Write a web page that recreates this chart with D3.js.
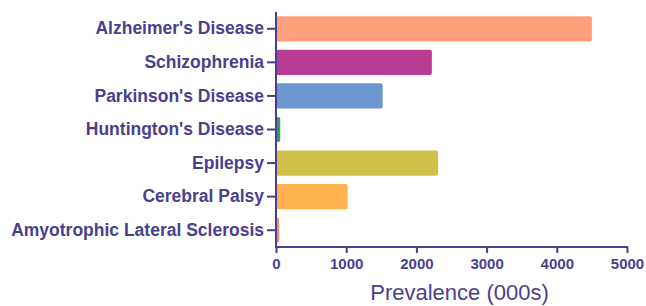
<!DOCTYPE html>
<html>
<head>
<meta charset="utf-8">
<script src="https://cdn.jsdelivr.net/npm/d3@7"></script>
<style>
  body { margin: 0; background: #fff; }
  svg { display: block; font-family: "Liberation Sans", Arial, sans-serif; }
</style>
</head>
<body>
<svg id="chart"></svg>
<script>
var diseases = ["Alzheimer's Disease", "Schizophrenia", "Parkinson's Disease", "Huntington's Disease", "Epilepsy", "Cerebral Palsy", "Amyotrophic Lateral Sclerosis"];
var prevalence = [4500, 2220, 1520, 60, 2310, 1020, 45];
var barColors = ["#ff9e7a", "#b83c93", "#6b96d0", "#2e9e5b", "#cfc04a", "#ffb04f", "#ff846e"];
var xTicks = [0, 1000, 2000, 3000, 4000, 5000];

var ink = "#4a3f8e";
var width = 646, height = 306;
var margin = { top: 12, right: 19, bottom: 59, left: 276 };

var svg = d3.select("#chart").attr("width", width).attr("height", height);
var g = svg.append("g").attr("transform", "translate(" + margin.left + "," + margin.top + ")");
var h = height - margin.top - margin.bottom;

var x = d3.scaleLinear().domain([0, 5000]).range([0, 351]);
var y = d3.scaleBand().domain(diseases).range([0, h]).paddingInner(0.25).paddingOuter(0.125);

g.selectAll(".bar")
  .data(diseases)
  .enter().append("rect")
  .attr("class", "bar")
  .attr("x", 0)
  .attr("y", d => y(d))
  .attr("width", (d, i) => x(prevalence[i]))
  .attr("height", y.bandwidth())
  .attr("rx", 2)
  .attr("fill", (d, i) => barColors[i]);

// y axis
var yAxis = g.append("g").call(d3.axisLeft(y).tickSize(9).tickPadding(3));
yAxis.select(".domain").remove();
yAxis.selectAll("line").attr("stroke", ink).attr("stroke-width", 2);
yAxis.selectAll("text")
  .attr("fill", ink)
  .style("font-size", "17.5px")
  .style("font-weight", "bold");
g.append("line")
  .attr("x1", 0).attr("x2", 0)
  .attr("y1", 0).attr("y2", h + 1)
  .attr("stroke", ink).attr("stroke-width", 2);

// x axis
var xAxis = g.append("g")
  .attr("transform", "translate(0," + h + ")")
  .call(d3.axisBottom(x).tickValues(xTicks).tickSize(6).tickPadding(5).tickFormat(d3.format("d")));
xAxis.select(".domain").remove();
xAxis.selectAll("line").attr("stroke", ink).attr("stroke-width", 2);
xAxis.selectAll("text")
  .attr("fill", ink)
  .style("font-size", "15px")
  .style("font-weight", "bold");
g.append("line")
  .attr("x1", -1).attr("x2", x(5000) + 1)
  .attr("y1", h).attr("y2", h)
  .attr("stroke", ink).attr("stroke-width", 2);

g.append("text")
  .attr("x", x(2500) + 8)
  .attr("y", h + 53)
  .attr("text-anchor", "middle")
  .attr("fill", ink)
  .style("font-size", "22px")
  .text("Prevalence (000s)");
</script>
</body>
</html>
